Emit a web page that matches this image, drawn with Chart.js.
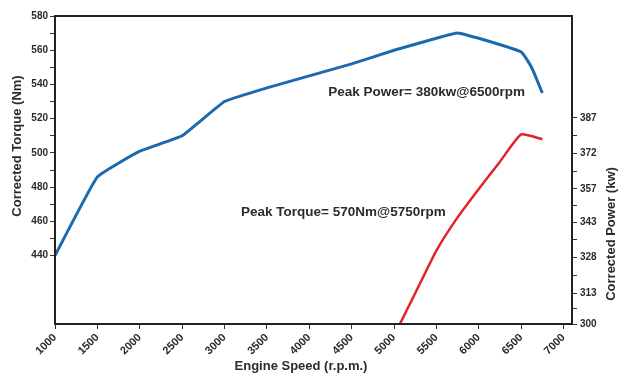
<!DOCTYPE html>
<html>
<head>
<meta charset="utf-8">
<script src="https://cdn.jsdelivr.net/npm/chart.js@4"></script>
<style>
    html, body {margin: 0; padding: 0; background: #fff;}
    #wrap {width: 618px; height: 374px;}
</style>
</head>
<body>
<div id="wrap"><canvas id="chart"></canvas></div>
<script>
const torqueRpm = [1000, 1500, 2000, 2500, 3000, 3500, 4000, 4500, 5000, 5500, 5750, 6000, 6500, 6600, 6650, 6750];
const torqueNm = [440, 486, 501, 510, 530, 538, 545, 552, 560, 567, 570, 567, 559, 552, 547, 535];

const powerRpm = [5000, 5250, 5500, 5750, 6000, 6250, 6500, 6750];
const powerKw = [295, 313, 331, 345, 357, 368.5, 380, 378];

const rpmTicks = [1000, 1500, 2000, 2500, 3000, 3500, 4000, 4500, 5000, 5500, 6000, 6500, 7000];
const torqueTicks = [440, 460, 480, 500, 520, 540, 560, 580];
const torqueMinor = [450, 470, 490, 510, 530, 550, 570];
const powerTicks = [300, 313, 328, 343, 357, 372, 387];

const notes = [
    {text: "Peak Power= 380kw@6500rpm", rpm: 4225, nm: 535.5},
    {text: "Peak Torque= 570Nm@5750rpm", rpm: 3195, nm: 465}
];

const ink = "#2b2b2b";
const tickFont = {family: "Liberation Sans", size: 10, weight: "bold"};

function tickList(major, minor) {
    const all = major.map(v => ({value: v, label: String(v)}));
    minor.forEach(v => all.push({value: v, label: ""}));
    return all.sort((a, b) => a.value - b.value);
}

const frame = {
    id: "frame",
    afterDraw(chart) {
        const {ctx, chartArea: a, scales} = chart;
        ctx.save();
        ctx.strokeStyle = "#222";
        ctx.lineWidth = 2;
        ctx.strokeRect(a.left, a.top, a.right - a.left, a.bottom - a.top);

        ctx.fillStyle = ink;
        ctx.font = "bold 13.5px 'Liberation Sans'";
        ctx.textBaseline = "middle";
        ctx.textAlign = "left";
        notes.forEach(n => ctx.fillText(n.text, scales.x.getPixelForValue(n.rpm), scales.y.getPixelForValue(n.nm)));

        ctx.font = "bold 13px 'Liberation Sans'";
        ctx.textAlign = "center";
        ctx.fillText("Engine Speed (r.p.m.)", 301, 366);

        ctx.translate(17, 146);
        ctx.rotate(-Math.PI / 2);
        ctx.fillText("Corrected Torque (Nm)", 0, 0);
        ctx.restore();

        ctx.save();
        ctx.fillStyle = ink;
        ctx.font = "bold 13px 'Liberation Sans'";
        ctx.textAlign = "center";
        ctx.textBaseline = "middle";
        ctx.translate(611, 234);
        ctx.rotate(-Math.PI / 2);
        ctx.fillText("Corrected Power (kw)", 0, 0);
        ctx.restore();
    }
};

new Chart(document.getElementById("chart"), {
    type: "line",
    data: {
        datasets: [
            {
                label: "Torque",
                data: torqueRpm.map((r, i) => ({x: r, y: torqueNm[i]})),
                yAxisID: "y",
                borderColor: "#1b6ab0",
                borderWidth: 3,
                pointRadius: 0,
                tension: 0.1
            },
            {
                label: "Power",
                data: powerRpm.map((r, i) => ({x: r, y: powerKw[i]})),
                yAxisID: "y1",
                borderColor: "#e32424",
                borderWidth: 2.5,
                pointRadius: 0,
                tension: 0.15
            }
        ]
    },
    options: {
        responsive: true,
        maintainAspectRatio: false,
        animation: false,
        events: [],
        layout: {padding: {top: 16, left: 0, right: 0, bottom: 0}},
        plugins: {legend: {display: false}, tooltip: {enabled: false}},
        scales: {
            x: {
                type: "linear",
                min: 1000,
                max: 7100,
                afterBuildTicks: s => { s.ticks = rpmTicks.map(v => ({value: v})); },
                afterFit: s => { s.height = 50; },
                ticks: {color: ink, font: {family: "Liberation Sans", size: 11, weight: "bold"}, minRotation: 45, maxRotation: 45, padding: 2, callback: v => String(v)},
                grid: {drawOnChartArea: false, tickLength: 5, tickColor: "#333", tickWidth: 1},
                border: {display: false}
            },
            y: {
                position: "left",
                min: 400,
                max: 580,
                afterBuildTicks: s => { s.ticks = tickList(torqueTicks, torqueMinor); },
                afterFit: s => { s.width = 55; },
                ticks: {color: ink, font: tickFont, padding: 2, autoSkip: false, callback: function (v, i, t) { return t[i].label; }},
                grid: {drawOnChartArea: false, tickLength: 5, tickColor: "#333", tickWidth: 1},
                border: {display: false}
            },
            y1: {
                position: "right",
                min: 300,
                max: 430,
                afterBuildTicks: s => {
                    const mids = powerTicks.slice(1).map((v, i) => (v + powerTicks[i]) / 2);
                    s.ticks = tickList(powerTicks, mids);
                },
                afterFit: s => { s.width = 46; },
                ticks: {color: ink, font: tickFont, padding: 3, autoSkip: false, callback: function (v, i, t) { return t[i].label; }},
                grid: {drawOnChartArea: false, tickLength: 5, tickColor: "#333", tickWidth: 1},
                border: {display: false}
            }
        }
    },
    plugins: [frame]
});
</script>
</body>
</html>
